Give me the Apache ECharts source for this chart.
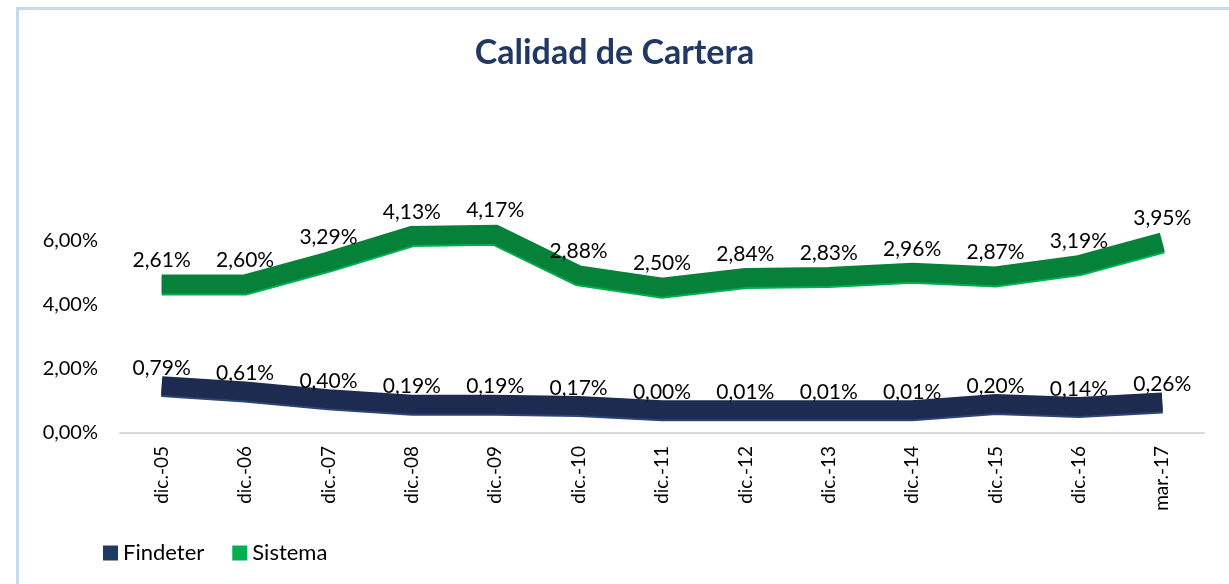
<!DOCTYPE html>
<html>
<head>
<meta charset="utf-8">
<script src="https://cdn.jsdelivr.net/npm/echarts@6/dist/echarts.min.js"></script>
<style>
    html, body { margin: 0; padding: 0; background: #fff; }
    #frame { position: absolute; left: 16px; top: 7px; width: 1240px; height: 600px;
             border-left: 3px solid #c5daee; border-top: 3px solid #c5daee; }
    #chart { position: absolute; left: 0; top: 0; width: 1229px; height: 584px; }
</style>
</head>
<body>
<div id="frame"></div>
<div id="chart"></div>
<script>
    // categorias del eje X
    var periodos = ["dic.-05", "dic.-06", "dic.-07", "dic.-08", "dic.-09", "dic.-10", "dic.-11",
                    "dic.-12", "dic.-13", "dic.-14", "dic.-15", "dic.-16", "mar.-17"];
    // valores que muestran las etiquetas (%)
    var findeterValores = [0.79, 0.61, 0.40, 0.19, 0.19, 0.17, 0.00, 0.01, 0.01, 0.01, 0.20, 0.14, 0.26];
    var sistemaValores = [2.61, 2.60, 3.29, 4.13, 4.17, 2.88, 2.50, 2.84, 2.83, 2.96, 2.87, 3.19, 3.95];
    // altura a la que se ve la cinta 3D sobre el eje (%)
    var findeterCinta = [1.48, 1.31, 1.07, 0.90, 0.90, 0.86, 0.73, 0.73, 0.73, 0.73, 0.92, 0.83, 0.97];
    var sistemaCinta = [4.66, 4.66, 5.37, 6.17, 6.21, 4.94, 4.56, 4.86, 4.89, 5.02, 4.91, 5.26, 5.97];
    // marcas del eje Y
    var ticksY = [0, 2, 4, 6];

    var fuente = "Lato";
    function pct(v) {
        return v.toFixed(2).replace(".", ",") + "%";
    }

    var myChart = echarts.init(document.getElementById("chart"), null, { renderer: "canvas" });
    var option = {
        animation: false,
        title: {
            text: "Calidad de Cartera",
            left: "center",
            top: 31,
            textStyle: { fontFamily: fuente, fontSize: 34, fontWeight: "bold", color: "#1f3864" }
        },
        legend: {
            left: 98,
            top: 537,
            icon: "rect",
            itemWidth: 15,
            itemHeight: 15,
            itemGap: 28,
            textStyle: { fontFamily: fuente, fontSize: 22, color: "#000" },
            data: ["Findeter", "Sistema"]
        },
        grid: { left: 120, right: 25, top: 177, bottom: 151, containLabel: false },
        xAxis: {
            type: "category",
            data: periodos,
            boundaryGap: true,
            axisLine: { lineStyle: { color: "#d9d9d9", width: 2 } },
            axisTick: { show: false },
            axisLabel: { rotate: 90, margin: 13, fontFamily: fuente, fontSize: 19, color: "#000" }
        },
        yAxis: {
            type: "value",
            min: 0,
            max: 8,
            interval: 2,
            splitLine: { show: false },
            axisLine: { show: false },
            axisTick: { show: false },
            axisLabel: {
                margin: 22,
                fontFamily: fuente,
                fontSize: 20,
                color: "#000",
                formatter: function (v) { return ticksY.indexOf(v) >= 0 ? pct(v) : ""; }
            }
        },
        series: [
            {
                name: "Findeter",
                type: "line",
                data: findeterCinta,
                symbol: "circle",
                symbolSize: 0.1,
                itemStyle: { color: "#203864" },
                lineStyle: { color: "#1c2b4f", width: 19, cap: "butt", join: "miter",
                             shadowColor: "#2c4577", shadowOffsetY: 2, shadowBlur: 0 },
                label: {
                    show: true, position: "top", distance: 7,
                    fontFamily: fuente, fontSize: 21, color: "#000",
                    formatter: function (p) { return pct(findeterValores[p.dataIndex]); }
                },
                z: 2
            },
            {
                name: "Sistema",
                type: "line",
                data: sistemaCinta,
                symbol: "circle",
                symbolSize: 0.1,
                itemStyle: { color: "#00b050" },
                lineStyle: { color: "#058139", width: 19, cap: "butt", join: "miter",
                             shadowColor: "#00b050", shadowOffsetY: 2, shadowBlur: 0 },
                label: {
                    show: true, position: "top", distance: 13,
                    fontFamily: fuente, fontSize: 21, color: "#000",
                    formatter: function (p) { return pct(sistemaValores[p.dataIndex]); }
                },
                z: 2
            }
        ]
    };
    myChart.setOption(option);
</script>
</body>
</html>
